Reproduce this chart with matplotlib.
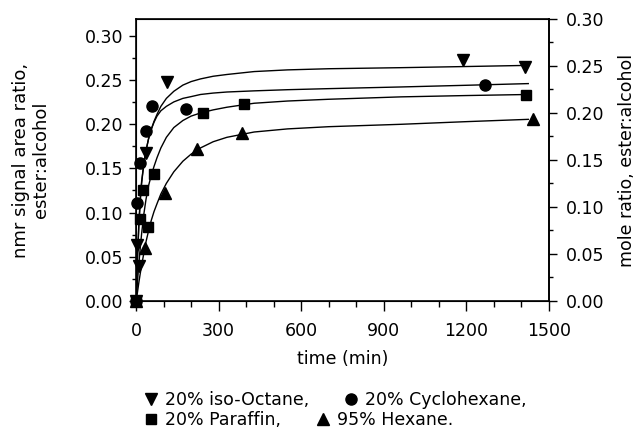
import matplotlib.pyplot as plt
from matplotlib.lines import Line2D
from matplotlib.ticker import MultipleLocator

plt.rcParams['font.family'] = ['DejaVu Sans']

# measured points
t_oct = [0, 4, 12, 36, 112, 1187, 1412]
y_oct = [0, 0.063, 0.040, 0.167, 0.248, 0.272, 0.265]
t_cyc = [0, 2, 15, 36, 58, 180, 1266]
y_cyc = [0, 0.111, 0.156, 0.192, 0.220, 0.217, 0.244]
t_par = [0, 15, 25, 43, 64, 244, 392, 1416]
y_par = [0, 0.093, 0.125, 0.084, 0.143, 0.213, 0.223, 0.233]
t_hex = [0, 31, 104, 222, 386, 1442]
y_hex = [0, 0.060, 0.122, 0.172, 0.190, 0.206]

# fitted curves
fit_t = [0, 5, 10, 15, 20, 28, 36, 45, 55, 65, 76, 90, 110, 137, 170, 200, 234,
         280, 330, 429, 550, 700, 962, 1200, 1425]
fit_oct = [0, 0.048, 0.085, 0.113, 0.133, 0.155, 0.170, 0.183, 0.194, 0.203, 0.211,
           0.220, 0.229, 0.237, 0.244, 0.248, 0.251, 0.254, 0.256, 0.2593, 0.2612,
           0.2625, 0.2637, 0.265, 0.2663]
fit_cyc = [0, 0.050, 0.088, 0.115, 0.135, 0.155, 0.170, 0.183, 0.194, 0.202, 0.209,
           0.215, 0.220, 0.225, 0.229, 0.231, 0.2334, 0.2350, 0.2362, 0.2375, 0.2388,
           0.2400, 0.2419, 0.2438, 0.2457]
fit_par = [0, 0.022, 0.042, 0.060, 0.076, 0.098, 0.115, 0.130, 0.142, 0.152, 0.162,
           0.173, 0.185, 0.196, 0.204, 0.209, 0.2125, 0.216, 0.219, 0.2235, 0.2260,
           0.2280, 0.2307, 0.2322, 0.2334]
fit_hex = [0, 0.010, 0.021, 0.031, 0.040, 0.054, 0.067, 0.079, 0.091, 0.101, 0.110,
           0.121, 0.133, 0.146, 0.158, 0.166, 0.173, 0.180, 0.185, 0.191, 0.1945,
           0.197, 0.1997, 0.2027, 0.2053]

labels = ['20% iso-Octane,', '20% Cyclohexane,', '20% Paraffin,', '95% Hexane.']
markers = ['v', 'o', 's', '^']
msizes = [8, 8, 6.5, 8]
yticks = [0, 0.05, 0.10, 0.15, 0.20, 0.25, 0.30]
ytick_labels = ['0.00', '0.05', '0.10', '0.15', '0.20', '0.25', '0.30']

fig = plt.figure(figsize=(6.39, 4.30), dpi=100)
ax = fig.add_axes([0.213, 0.300, 0.646, 0.656])

for ft in [fit_oct, fit_cyc, fit_par, fit_hex]:
    ax.plot(fit_t, ft, color='black', lw=1.0)

series = [(t_oct, y_oct), (t_cyc, y_cyc), (t_par, y_par), (t_hex, y_hex)]
for (t, y), m, ms in zip(series, markers, msizes):
    ax.plot(t, y, linestyle='none', marker=m, ms=ms, color='black', clip_on=False, zorder=3)

ax.set_xlim(0, 1500)
ax.set_ylim(0, 0.3188)
ax.set_xticks([0, 300, 600, 900, 1200, 1500])
ax.xaxis.set_minor_locator(MultipleLocator(100))
ax.set_yticks(yticks)
ax.set_yticklabels(ytick_labels)
ax.yaxis.set_minor_locator(MultipleLocator(0.025))
ax.tick_params(axis='x', which='major', direction='out', length=7, width=1, labelsize=12.5, pad=8)
ax.tick_params(axis='x', which='minor', direction='out', length=4, width=1)
ax.tick_params(axis='y', which='major', direction='out', length=5, width=1, labelsize=12.5, pad=4)
ax.tick_params(axis='y', which='minor', direction='out', length=3, width=1)
ax.set_xlabel('time (min)', fontsize=12.5, labelpad=7)
ax.set_ylabel('nmr signal area ratio,\nester:alcohol', fontsize=13, labelpad=25, linespacing=1.2)
for s in ax.spines.values():
    s.set_linewidth(1.2)

ax2 = ax.twinx()
ax2.set_ylim(0, 0.30)
ax2.set_yticks(yticks)
ax2.set_yticklabels(ytick_labels)
ax2.yaxis.set_minor_locator(MultipleLocator(0.025))
ax2.tick_params(axis='y', which='major', direction='out', length=6, width=1, labelsize=12.5, pad=6)
ax2.tick_params(axis='y', which='minor', direction='out', length=3, width=1)
ax2.set_ylabel('mole ratio, ester:alcohol', fontsize=12.5, labelpad=10)
ax2.spines['right'].set_linewidth(1.2)

# legend rows as in the original caption
handles = [Line2D([], [], linestyle='none', marker=m, ms=ms, color='black')
           for m, ms in zip(markers, msizes)]
for row, yy in [((0, 1), 0.070), ((2, 3), 0.023)]:
    fig.legend([handles[i] for i in row], [labels[i] for i in row], ncol=2,
               loc='center left', bbox_to_anchor=(0.226, yy), frameon=False,
               fontsize=12.5, handlelength=0.8, handletextpad=0.4,
               columnspacing=2.0, borderpad=0, borderaxespad=0)

fig.savefig('out.png', dpi=100)
